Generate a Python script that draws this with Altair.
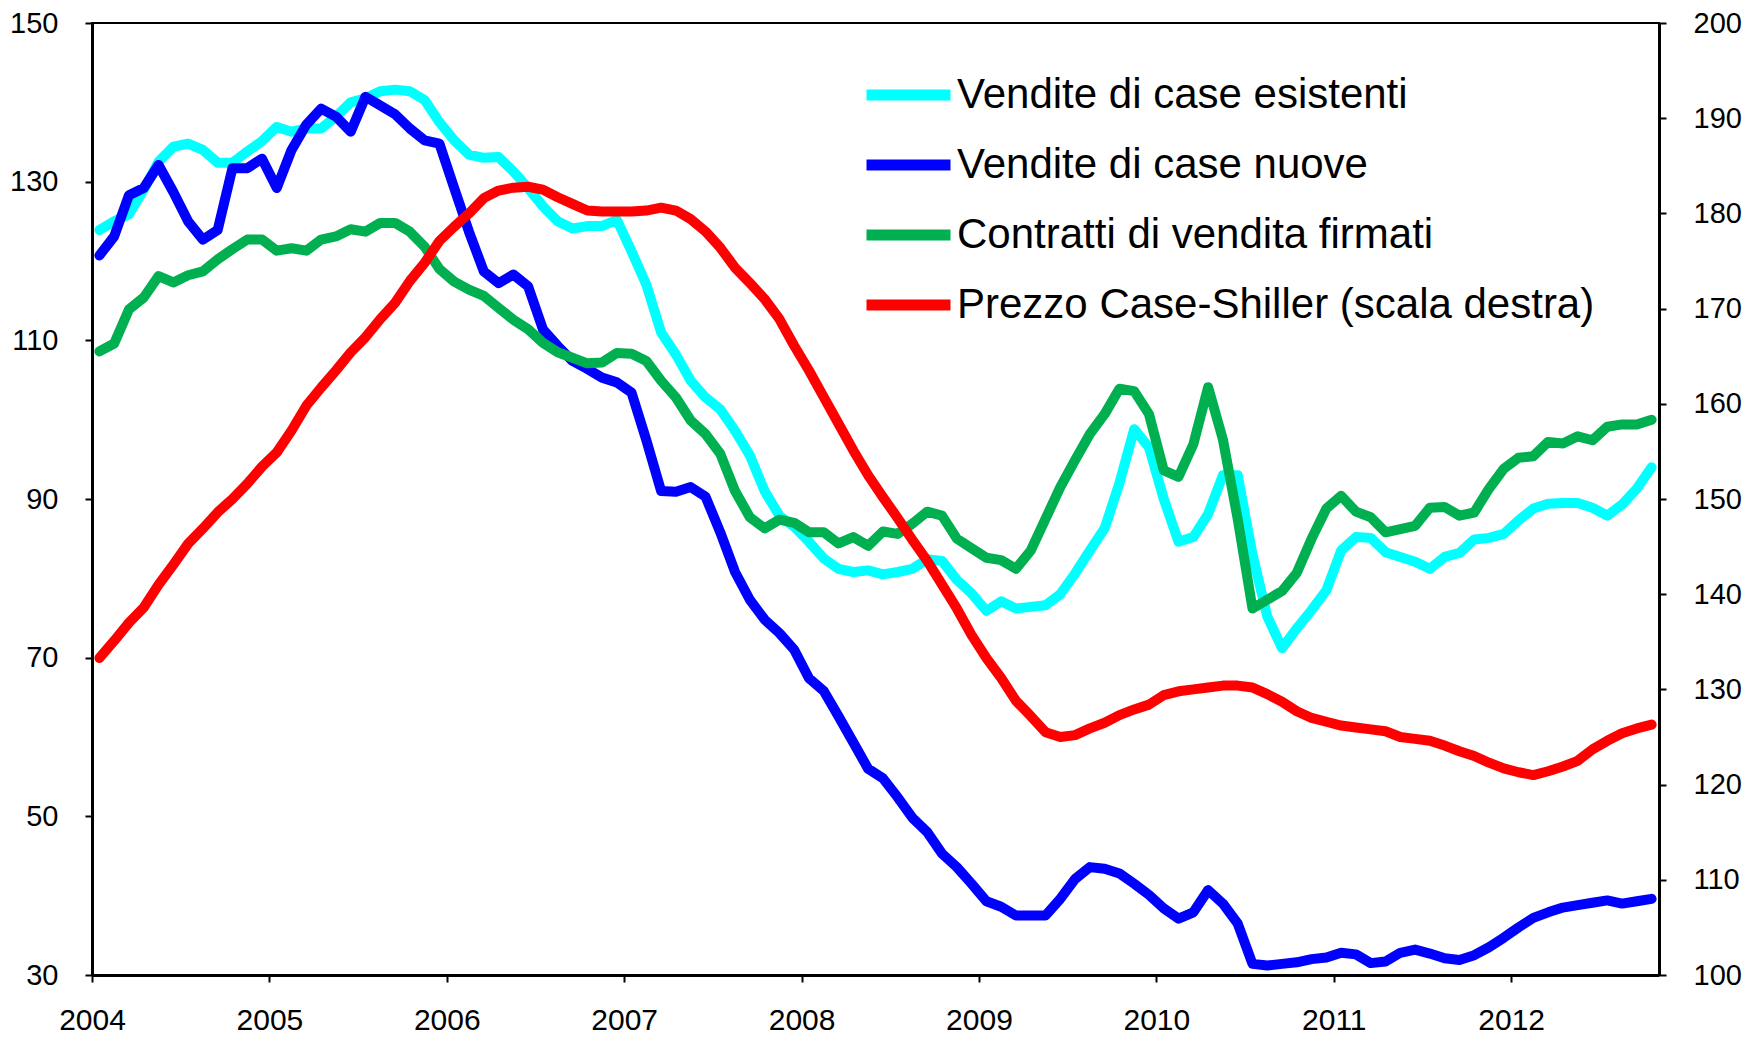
import altair as alt
import pandas as pd

FONT = "Liberation Sans"

# 106 monthly observations, Jan 2004 - Oct 2012
months = [f"{y}-{m:02d}" for y in range(2004, 2013) for m in range(1, 13)][:106]

existing = [
    123.9, 125.0, 125.9, 129.0, 132.5, 134.4, 134.8, 134.0, 132.4, 132.4, 133.8, 135.1,
    136.9, 136.3, 136.7, 136.7, 138.2, 140.0, 140.5, 141.4, 141.6, 141.4, 140.3, 137.5,
    135.2, 133.4, 133.0, 133.1, 131.3, 129.2, 126.9, 125.0, 124.1, 124.4, 124.4, 125.2,
    121.2, 117.0, 111.0, 108.2, 104.9, 102.8, 101.3, 98.6, 95.5, 91.0, 87.9, 86.5,
    84.6, 82.5, 81.2, 80.8, 81.0, 80.5, 80.8, 81.2, 82.4, 82.2, 79.8, 78.1,
    75.9, 77.1, 76.2, 76.4, 76.6, 78.0, 80.6, 83.5, 86.3, 92.0, 98.8, 96.5,
    90.0, 84.6, 85.2, 88.1, 93.0, 93.0, 83.0, 75.2, 71.2, 73.7, 76.0, 78.5,
    83.5, 85.2, 85.1, 83.3, 82.7, 82.1, 81.2, 82.7, 83.2, 84.9, 85.1, 85.6,
    87.3, 88.8, 89.4, 89.5, 89.5, 88.9, 87.9, 89.3, 91.3, 94.0,
]

new_homes = [
    120.7, 123.1, 128.3, 129.2, 132.1, 128.7, 125.0, 122.7, 123.9, 131.7, 131.7, 132.9,
    129.2, 134.0, 137.2, 139.2, 138.2, 136.3, 140.7, 139.6, 138.5, 136.7, 135.2, 134.8,
    129.2, 123.7, 118.7, 117.2, 118.3, 116.8, 111.4, 109.3, 107.4, 106.4, 105.3, 104.7,
    103.4, 97.4, 91.0, 90.9, 91.5, 90.3, 85.8, 80.8, 77.3, 74.8, 73.1, 71.0,
    67.4, 65.8, 62.6, 59.3, 56.0, 54.8, 52.4, 49.8, 48.0, 45.3, 43.6, 41.5,
    39.3, 38.6, 37.5, 37.5, 37.5, 39.6, 42.1, 43.6, 43.4, 42.8, 41.5, 40.1,
    38.4, 37.1, 37.9, 40.7, 39.0, 36.5, 31.4, 31.2, 31.4, 31.6, 32.0, 32.2,
    32.8, 32.6, 31.5, 31.7, 32.8, 33.2, 32.7, 32.1, 31.9, 32.5, 33.5, 34.7,
    36.0, 37.2, 37.9, 38.5, 38.8, 39.1, 39.4, 39.0, 39.3, 39.6,
]

pending = [
    108.6, 109.6, 113.9, 115.4, 118.1, 117.3, 118.2, 118.7, 120.2, 121.5, 122.7, 122.7,
    121.3, 121.6, 121.3, 122.7, 123.1, 124.0, 123.7, 124.8, 124.8, 123.7, 121.8, 119.0,
    117.4, 116.4, 115.6, 114.1, 112.6, 111.4, 109.7, 108.5, 107.8, 107.1, 107.2, 108.4,
    108.3, 107.4, 104.9, 102.8, 99.9, 98.2, 95.7, 91.0, 87.7, 86.3, 87.4, 87.0,
    85.8, 85.8, 84.4, 85.2, 84.1, 85.9, 85.6, 86.9, 88.4, 87.9, 85.0, 83.8,
    82.6, 82.3, 81.2, 83.5, 87.5, 91.5, 94.9, 98.2, 100.7, 103.9, 103.6, 100.7,
    93.6, 92.8, 96.9, 104.1, 97.5, 87.5, 76.2, 77.3, 78.4, 80.7, 85.0, 88.8,
    90.4, 88.4, 87.7, 85.8, 86.2, 86.6, 88.9, 89.0, 87.9, 88.3, 91.3, 93.8,
    95.2, 95.4, 97.2, 97.0, 97.9, 97.4, 99.1, 99.4, 99.4, 100.0,
]

case_shiller = [
    133.3, 135.1, 137.0, 138.6, 141.0, 143.1, 145.3, 146.9, 148.6, 150.0, 151.6, 153.4,
    154.9, 157.2, 159.8, 161.7, 163.5, 165.4, 167.0, 168.9, 170.6, 172.9, 174.8, 177.1,
    178.6, 180.0, 181.6, 182.4, 182.7, 182.8, 182.5, 181.7, 181.0, 180.3, 180.2, 180.2,
    180.2, 180.3, 180.6, 180.3, 179.4, 178.1, 176.4, 174.3, 172.7, 171.0, 168.9, 166.1,
    163.5, 160.7, 157.9, 155.1, 152.5, 150.2, 148.0, 145.7, 143.5, 141.0, 138.5, 135.7,
    133.3, 131.2, 128.8, 127.2, 125.5, 125.0, 125.2, 125.9, 126.5, 127.3, 127.9, 128.4,
    129.4, 129.8, 130.0, 130.2, 130.4, 130.4, 130.2, 129.5, 128.7, 127.7, 127.0, 126.6,
    126.2, 126.0, 125.8, 125.6, 125.0, 124.8, 124.6, 124.1, 123.5, 123.0, 122.3, 121.7,
    121.3, 121.0, 121.4, 121.9, 122.5, 123.7, 124.6, 125.4, 125.9, 126.3,
]

names = [
    "Vendite di case esistenti",
    "Vendite di case nuove",
    "Contratti di vendita firmati",
    "Prezzo Case-Shiller (scala destra)",
]
colors = ["#00FFFF", "#0000FF", "#00B050", "#FF0000"]
year_ticks = list(range(2004, 2013))
left_ticks = [30, 50, 70, 90, 110, 130, 150]
right_ticks = list(range(100, 201, 10))


def frame(values, name):
    df = pd.DataFrame({"month": months, "value": values})
    df["t"] = [int(m[:4]) + (int(m[5:]) - 0.5) / 12 for m in months]
    df["series"] = name
    return df


x_enc = alt.X(
    "t:Q",
    scale=alt.Scale(domain=[2004, 2004 + len(months) / 12], nice=False, zero=False),
    axis=alt.Axis(values=year_ticks, format="d", title=None, labelFlush=False,
                  labelOverlap=False, labelPadding=23, labelFontSize=30, grid=False),
)
legend = alt.Legend(
    title=None, orient="none", legendX=769, legendY=37,
    symbolType="stroke", symbolSize=7056, symbolStrokeWidth=11,
    labelFont=FONT, labelFontSize=42, labelColor="black", labelLimit=2000,
    labelOffset=1, clipHeight=70, rowPadding=0, padding=0,
)
color_enc = alt.Color("series:N", scale=alt.Scale(domain=names, range=colors), legend=legend)
y_left = alt.Y(
    "value:Q",
    scale=alt.Scale(domain=[30, 150], nice=False, zero=False),
    axis=alt.Axis(values=left_ticks, orient="left", title=None, labelPadding=27,
                  labelFontSize=29, grid=False),
)
y_right = alt.Y(
    "value:Q",
    scale=alt.Scale(domain=[100, 200], nice=False, zero=False),
    axis=alt.Axis(values=right_ticks, orient="right", title=None, labelPadding=27,
                  labelFontSize=29, grid=False),
)


def line(values, name, y):
    return alt.Chart(frame(values, name)).mark_line(
        strokeWidth=10, strokeCap="round", strokeJoin="round"
    ).encode(x=x_enc, y=y, color=color_enc)


left = alt.layer(
    line(existing, names[0], y_left),
    line(new_homes, names[1], y_left),
    line(pending, names[2], y_left),
)
right = line(case_shiller, names[3], y_right)

chart = (
    alt.layer(left, right)
    .resolve_scale(y="independent")
    .properties(
        width=1567, height=952,
        autosize=alt.AutoSizeParams(type="none"),
        padding={"left": 84, "top": 15, "right": 97, "bottom": 60},
        background="white",
    )
    .configure_axis(
        labelFont=FONT, labelColor="black",
        domainColor="black", domainWidth=3, tickColor="black", tickWidth=2,
        tickSize=7, grid=False,
    )
    .configure_view(stroke="black", strokeWidth=2)
)

chart.save("out.html", embed_options={"renderer": "svg", "actions": False})
